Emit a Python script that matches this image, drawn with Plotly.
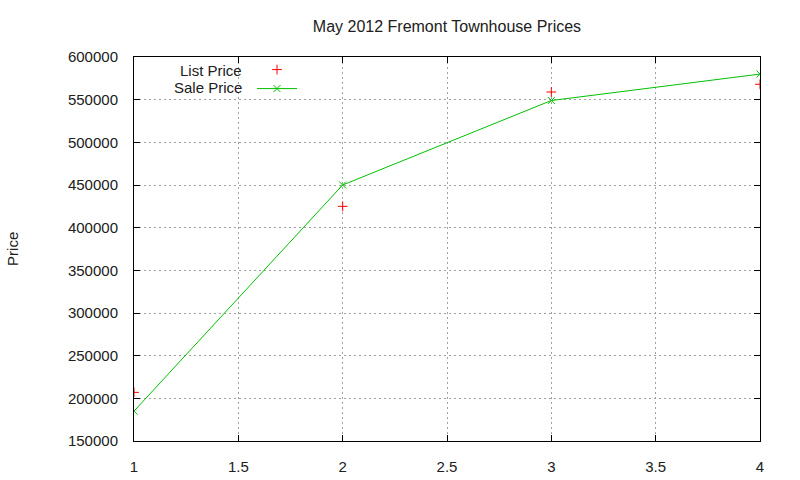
import plotly.graph_objects as go

# 데이터
weeks = [1, 2, 3, 4]
list_price = [207000, 425000, 559000, 568000]
sale_price = [185000, 450000, 549000, 580000]

x_ticks = [1, 1.5, 2, 2.5, 3, 3.5, 4]
y_ticks = [150000, 200000, 250000, 300000, 350000, 400000, 450000, 500000, 550000, 600000]

font = dict(family="Liberation Sans, Arial, sans-serif", size=15, color="#202020")

fig = go.Figure()
fig.add_trace(go.Scatter(
    x=weeks, y=list_price, mode="markers", name="List Price",
    marker=dict(symbol="cross-thin-open", size=7, color="#ff0000",
                line=dict(color="#ff0000", width=1)),
))
fig.add_trace(go.Scatter(
    x=weeks, y=sale_price, mode="lines+markers", name="Sale Price",
    line=dict(color="#00c000", width=1),
    marker=dict(symbol="x-thin-open", size=7, color="#00c000",
                line=dict(color="#00c000", width=1)),
))

grid = dict(showgrid=True, gridcolor="#a0a0a0", griddash="2px,3px", gridwidth=1,
            showline=True, linecolor="black", linewidth=1, mirror="ticks",
            ticks="inside", ticklen=6, tickcolor="black", zeroline=False,
            tickfont=font, ticklabelstandoff=12, automargin=False)

fig.update_layout(
    width=800, height=480,
    margin=dict(l=134, r=40, t=57, b=39),
    paper_bgcolor="white", plot_bgcolor="white",
    font=font,
    title=dict(text="May 2012 Fremont Townhouse Prices", x=0.5587, xanchor="center",
               y=0.944, yanchor="middle", font=dict(family=font["family"], size=16, color="#202020")),
    xaxis=dict(range=[1, 4], tickvals=x_ticks, ticktext=[f"{v:g}" for v in x_ticks], **grid),
    yaxis=dict(range=[150000, 600000], tickvals=y_ticks, ticktext=[str(v) for v in y_ticks], **grid),
    showlegend=True,
    legend=dict(x=0.1885, y=1.005, xanchor="left", yanchor="top", bgcolor="rgba(0,0,0,0)",
                font=dict(family=font["family"], size=11, color="rgba(0,0,0,0)"),
                tracegroupgap=0, itemwidth=40),
    annotations=[
        dict(text="List Price", xref="paper", yref="paper", x=0.175, y=0.966,
             xanchor="right", yanchor="middle", showarrow=False, font=font),
        dict(text="Sale Price", xref="paper", yref="paper", x=0.175, y=0.92,
             xanchor="right", yanchor="middle", showarrow=False, font=font),
        dict(text="Price", xref="paper", yref="paper", x=-0.195, y=0.5,
             xanchor="center", yanchor="middle", textangle=-90, showarrow=False, font=font),
    ],
)

fig.write_html("out.html", config={"displayModeBar": False},
               post_script="document.body.style.margin='0';document.body.style.overflow='hidden';")
